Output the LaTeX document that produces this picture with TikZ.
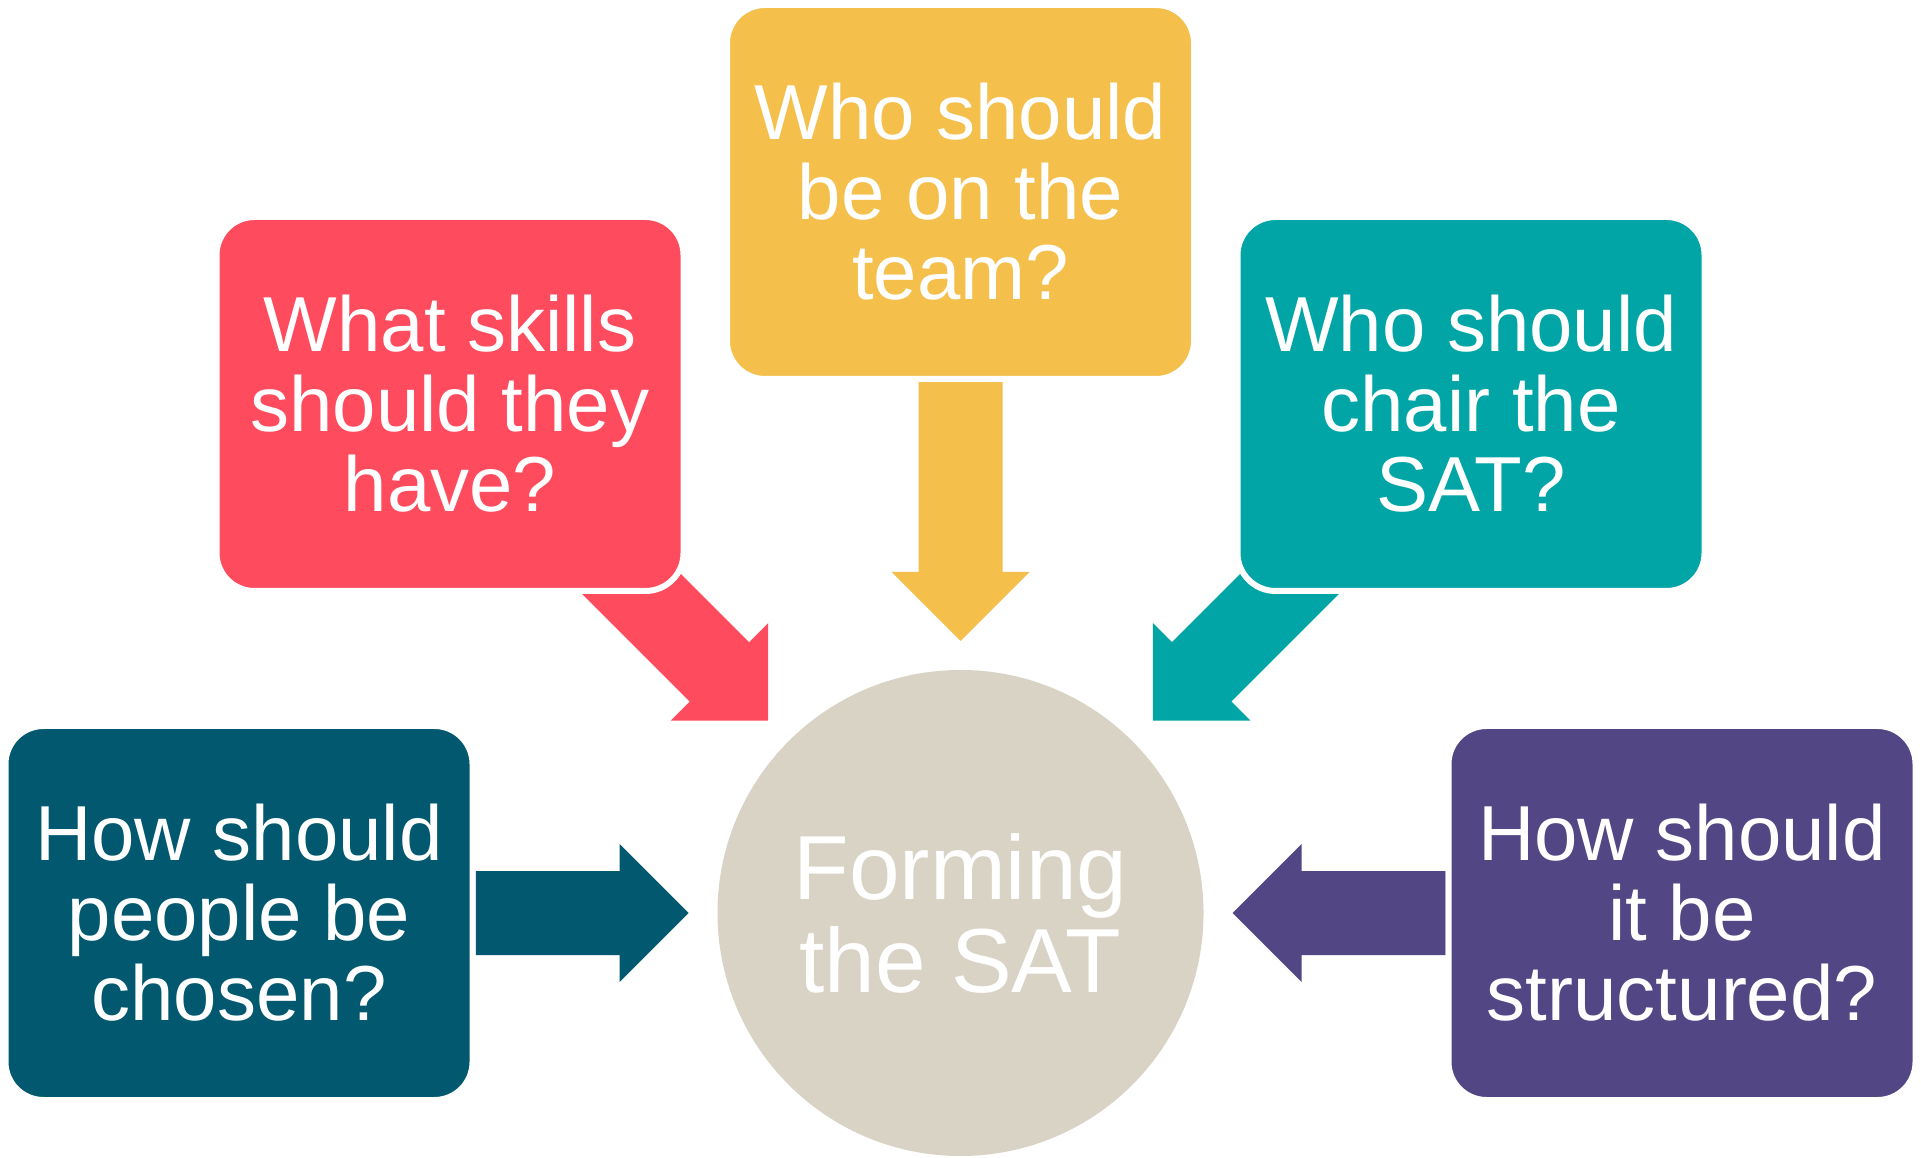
\documentclass[tikz,border=0pt]{standalone}
\usepackage{fontspec}
\setmainfont{Liberation Sans}
\usepackage{xcolor}
\usepackage{tikz}
\usetikzlibrary{positioning, calc}
\definecolor{teamyellow}{HTML}{F4BF4B}
\definecolor{skillred}{HTML}{FF4B5E}
\definecolor{chairteal}{HTML}{02A5A6}
\definecolor{chosenblue}{HTML}{01586F}
\definecolor{structpurple}{HTML}{534685}
\definecolor{coregray}{HTML}{D9D3C6}

\pgfdeclarelayer{background}
\pgfsetlayers{background,main}

% block arrow: colour, target, angle, shaft length
\newcommand{\blockarrow}[4]{
	\fill[#1, shift={#2}, rotate=#3] (-29-#4,42) -- (-98,42) -- (-98,69) -- (-29,0) -- (-98,-69) -- (-98,-42) -- (-29-#4,-42) -- cycle;
}

\tikzset{
	question/.style={fill=#1, draw=white, line width=6pt, rounded corners=38pt, minimum width=467pt, minimum height=374pt, inner sep=0pt, text=white, align=center, font=\fontsize{78}{80}\selectfont},
	topic/.style={circle, fill=coregray, minimum size=486pt, inner sep=0pt, outer sep=0pt, text=white, align=center, font=\fontsize{91}{93}\selectfont}
}

\begin{document}
\begin{tikzpicture}[x=1pt, y=1pt]
		\useasboundingbox (0,0) rectangle (1921,1157);

		\node[topic] (core) at (960.5,244) {Forming\\the SAT};

		\node[question=teamyellow] (team) at (960.5,965) {Who should\\be on the\\team?};
		\node[question=skillred] (skills) at (450,753) {What skills\\should they\\have?};
		\node[question=chairteal] (chair) at (1471,753) {Who should\\chair the\\SAT?};
		\node[question=chosenblue] (chosen) at (239,244) {How should\\people be\\chosen?};
		\node[question=structpurple] (structured) at (1682,244) {How should\\it be\\structured?};

		\begin{pgfonlayer}{background}
			\fill[white] (0,0) rectangle (1921,1157);
			\blockarrow{teamyellow}{(core.north)}{-90}{260}
			\blockarrow{skillred}{(core.north west)}{-45}{260}
			\blockarrow{chairteal}{(core.north east)}{-135}{260}
			\blockarrow{chosenblue}{(core.west)}{0}{213}
			\blockarrow{structpurple}{(core.east)}{180}{213}
		\end{pgfonlayer}
	\end{tikzpicture}
\end{document}
